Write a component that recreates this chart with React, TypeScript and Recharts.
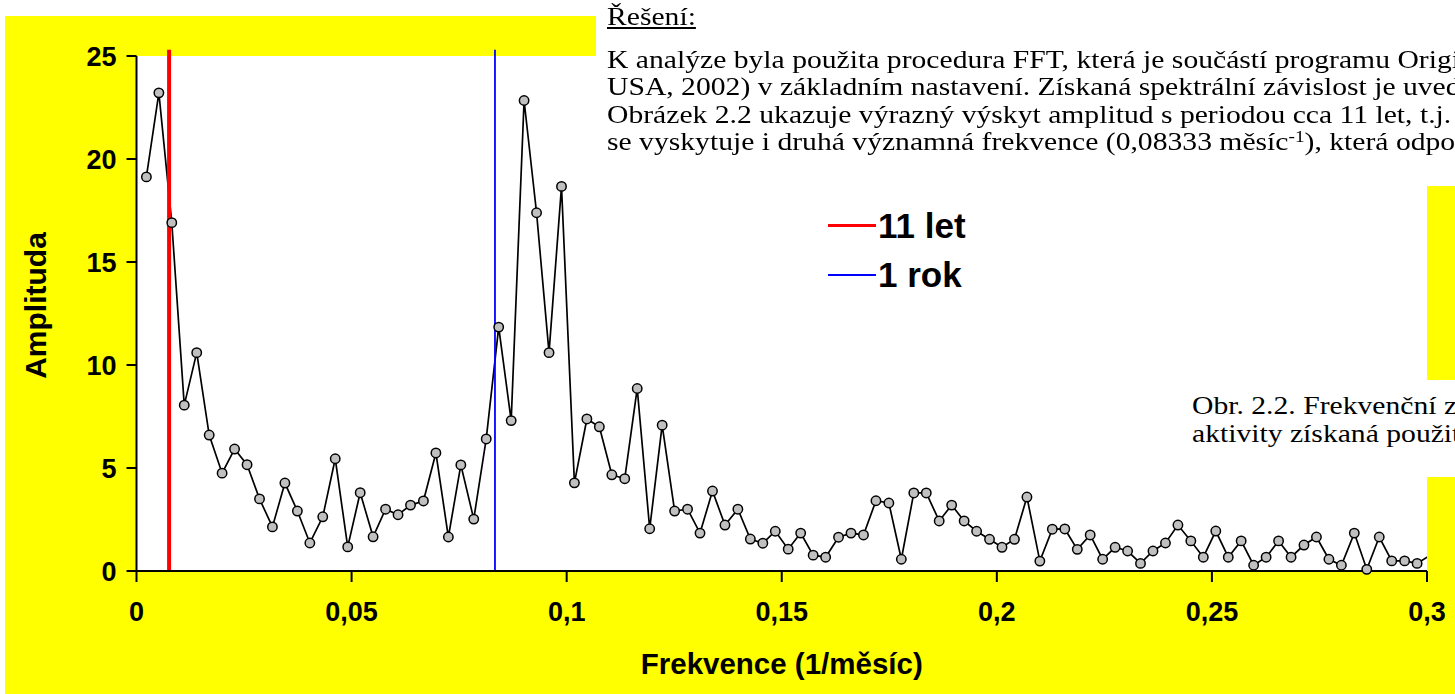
import React from "react";
import { LineChart, Line, XAxis, YAxis, CartesianGrid, ReferenceLine, Legend, Label } from "recharts";

// frequency (1/month) of each FFT bin
const frequency = [
  0.0023, 0.0052, 0.0082, 0.0111, 0.014, 0.0169, 0.0199, 0.0228, 0.0257, 0.0286,
  0.0316, 0.0345, 0.0374, 0.0403, 0.0433, 0.0462, 0.0491, 0.052, 0.055, 0.0579,
  0.0608, 0.0637, 0.0667, 0.0696, 0.0725, 0.0754, 0.0784, 0.0813, 0.0842, 0.0871,
  0.0901, 0.093, 0.0959, 0.0988, 0.1018, 0.1047, 0.1076, 0.1105, 0.1135, 0.1164,
  0.1193, 0.1222, 0.1251, 0.1281, 0.131, 0.1339, 0.1368, 0.1398, 0.1427, 0.1456,
  0.1485, 0.1515, 0.1544, 0.1573, 0.1602, 0.1632, 0.1661, 0.169, 0.1719, 0.1749,
  0.1778, 0.1807, 0.1836, 0.1866, 0.1895, 0.1924, 0.1953, 0.1983, 0.2012, 0.2041,
  0.207, 0.21, 0.2129, 0.2158, 0.2187, 0.2217, 0.2246, 0.2275, 0.2304, 0.2334,
  0.2363, 0.2392, 0.2421, 0.2451, 0.248, 0.2509, 0.2538, 0.2568, 0.2597, 0.2626,
  0.2655, 0.2684, 0.2714, 0.2743, 0.2772, 0.2801, 0.2831, 0.286, 0.2889, 0.2918,
  0.2948, 0.2977, 0.3006,
];

const amplitude = [
  19.13, 23.21, 16.91, 8.05, 10.6, 6.6, 4.75, 5.92, 5.16, 3.5,
  2.14, 4.27, 2.91, 1.36, 2.63, 5.45, 1.17, 3.8, 1.66, 3.0,
  2.73, 3.2, 3.4, 5.73, 1.65, 5.15, 2.52, 6.41, 11.84, 7.3,
  22.84, 17.39, 10.6, 18.67, 4.28, 7.38, 7.0, 4.67, 4.48, 8.86,
  2.05, 7.08, 2.91, 3.0, 1.84, 3.88, 2.23, 3.0, 1.55, 1.35,
  1.93, 1.06, 1.84, 0.77, 0.67, 1.64, 1.84, 1.75, 3.41, 3.3,
  0.57, 3.79, 3.79, 2.43, 3.2, 2.43, 1.93, 1.54, 1.15, 1.54,
  3.59, 0.48, 2.03, 2.04, 1.05, 1.75, 0.57, 1.15, 0.97, 0.37,
  0.97, 1.36, 2.23, 1.46, 0.67, 1.94, 0.67, 1.46, 0.28, 0.67,
  1.46, 0.67, 1.26, 1.65, 0.57, 0.28, 1.84, 0.08, 1.65, 0.49,
  0.49, 0.37, 0.75,
];

const xTicks = [0, 0.05, 0.1, 0.15, 0.2, 0.25, 0.3];
const yTicks = [0, 5, 10, 15, 20, 25];

// marker lines: 11 years (1/132 month) and 1 year (1/12 month)
const cycleNames = ["11 let", "1 rok"];
const cycleFreqs = [0.007576, 0.083333];
const cycleColors = ["#ff0000", "#0000ff"];

const data = frequency.map((f, i) => ({ f, a: amplitude[i] }));

const ARIAL = '"Liberation Sans", Arial, sans-serif';
const TIMES = '"Liberation Serif", "Times New Roman", serif';
// the document text in the picture is stretched sideways
const TEXT_SX = 1.14;

const fmt = (v: number) => String(v).replace(".", ",");

const renderDot = (props: any) => {
  const { cx, cy, payload, index } = props;
  if (payload.f > 0.3) return <g key={`d${index}`} />;
  return <circle key={`d${index}`} cx={cx} cy={cy} r={4.7} fill="#c0c0c0" stroke="#000" strokeWidth={1.5} />;
};

const renderLegend = () => (
  <div style={{ fontFamily: ARIAL, fontWeight: "bold", fontSize: 35, color: "#000" }}>
    {cycleNames.map((name, i) => (
      <div key={name} style={{ display: "flex", alignItems: "center", height: 49 }}>
        <span style={{ display: "inline-block", width: 48, height: i === 0 ? 3.3 : 2, background: cycleColors[i] }} />
        <span style={{ marginLeft: 2, lineHeight: 1 }}>{name}</span>
      </div>
    ))}
  </div>
);

const yTitle = (props: any) => {
  const { viewBox } = props;
  const cx = 35;
  const cy = viewBox.y + viewBox.height / 2 - 8;
  return (
    <text
      x={cx}
      y={cy}
      transform={`rotate(-90 ${cx} ${cy})`}
      textAnchor="middle"
      dominantBaseline="central"
      fill="#000"
      fontSize={30}
      fontWeight="bold"
      fontFamily={ARIAL}
    >
      Amplituda
    </text>
  );
};

const docLine = { whiteSpace: "nowrap" as const, height: 27.3 };

export default function App() {
  return (
    <div style={{ position: "absolute", left: 0, top: 0, width: 1455, height: 694, overflow: "hidden", background: "#fff" }}>
      <div style={{ position: "absolute", left: 5, top: 16, right: 0, bottom: 0, background: "#ffff00" }} />
      <div style={{ position: "absolute", left: 0, top: 0 }}>
        <LineChart width={1455} height={694} data={data} margin={{ top: 56, right: 28, bottom: 0, left: 0 }}>
          <CartesianGrid fill="#ffffff" stroke="none" horizontal={false} vertical={false} />
          <XAxis
            dataKey="f"
            type="number"
            domain={[0, 0.3]}
            allowDataOverflow
            ticks={xTicks}
            tickFormatter={fmt}
            height={123}
            tickSize={11}
            tickMargin={20}
            axisLine={{ stroke: "#000", strokeWidth: 2 }}
            tickLine={{ stroke: "#000", strokeWidth: 2 }}
            tick={{ fill: "#000", fontSize: 27, fontWeight: "bold", fontFamily: ARIAL }}
          >
            <Label
              value="Frekvence (1/měsíc)"
              position="insideBottom"
              offset={20}
              style={{ fill: "#000", fontSize: 29.5, fontWeight: "bold", fontFamily: ARIAL }}
            />
          </XAxis>
          <YAxis
            type="number"
            domain={[0, 25]}
            ticks={yTicks}
            width={136.5}
            tickSize={10}
            tickMargin={10}
            axisLine={{ stroke: "#000", strokeWidth: 2 }}
            tickLine={{ stroke: "#000", strokeWidth: 2 }}
            tick={{ fill: "#000", fontSize: 27, fontWeight: "bold", fontFamily: ARIAL }}
          >
            <Label content={yTitle} />
          </YAxis>
          <Line
            dataKey="a"
            stroke="#000"
            strokeWidth={1.7}
            dot={renderDot}
            activeDot={false}
            isAnimationActive={false}
          />
          {cycleFreqs.map((f, i) => (
            <ReferenceLine
              key={cycleNames[i]}
              segment={[{ x: f, y: 0 }, { x: f, y: 25.3 }]}
              stroke={cycleColors[i]}
              strokeWidth={i === 0 ? 4 : 1.8}
              ifOverflow="visible"
            />
          ))}
          <Legend
            content={renderLegend}
            layout="horizontal"
            verticalAlign="middle"
            align="center"
            wrapperStyle={{ left: 828, top: 201, width: "auto" }}
          />
        </LineChart>
      </div>

      <div style={{ position: "absolute", left: 596, top: 0, width: 1455 - 596, height: 186, background: "#fff", overflow: "hidden" }}>
        <div style={{ position: "absolute", left: 11, top: 0, transform: `scaleX(${TEXT_SX})`, transformOrigin: "0 0", fontFamily: TIMES, fontSize: 26, color: "#000" }}>
          <div style={{ position: "absolute", left: 0, top: 3, lineHeight: "27.3px", textDecoration: "underline", whiteSpace: "nowrap" }}>Řešení:</div>
          <div style={{ position: "absolute", left: 0, top: 46, lineHeight: "27.3px" }}>
            <div style={docLine}>K analýze byla použita procedura FFT, která je součástí programu Origin</div>
            <div style={docLine}>USA, 2002) v základním nastavení. Získaná spektrální závislost je uvedena</div>
            <div style={docLine}>Obrázek 2.2 ukazuje výrazný výskyt amplitud s periodou cca 11 let, t.j.</div>
            <div style={docLine}>
              se vyskytuje i druhá významná frekvence (0,08333 měsíc
              <span style={{ position: "relative", top: "-0.45em", fontSize: "0.65em", lineHeight: 0 }}>-1</span>
              ), která odpovídá
            </div>
          </div>
        </div>
      </div>

      <div style={{ position: "absolute", left: 1160, top: 380, width: 1455 - 1160, height: 97, background: "#fff", overflow: "hidden" }}>
        <div style={{ position: "absolute", left: 32, top: 12, lineHeight: "28px", transform: `scaleX(${TEXT_SX})`, transformOrigin: "0 0", fontFamily: TIMES, fontSize: 26, color: "#000" }}>
          <div style={{ whiteSpace: "nowrap" }}>Obr. 2.2. Frekvenční závislost</div>
          <div style={{ whiteSpace: "nowrap" }}>aktivity získaná použitím</div>
        </div>
      </div>
    </div>
  );
}
